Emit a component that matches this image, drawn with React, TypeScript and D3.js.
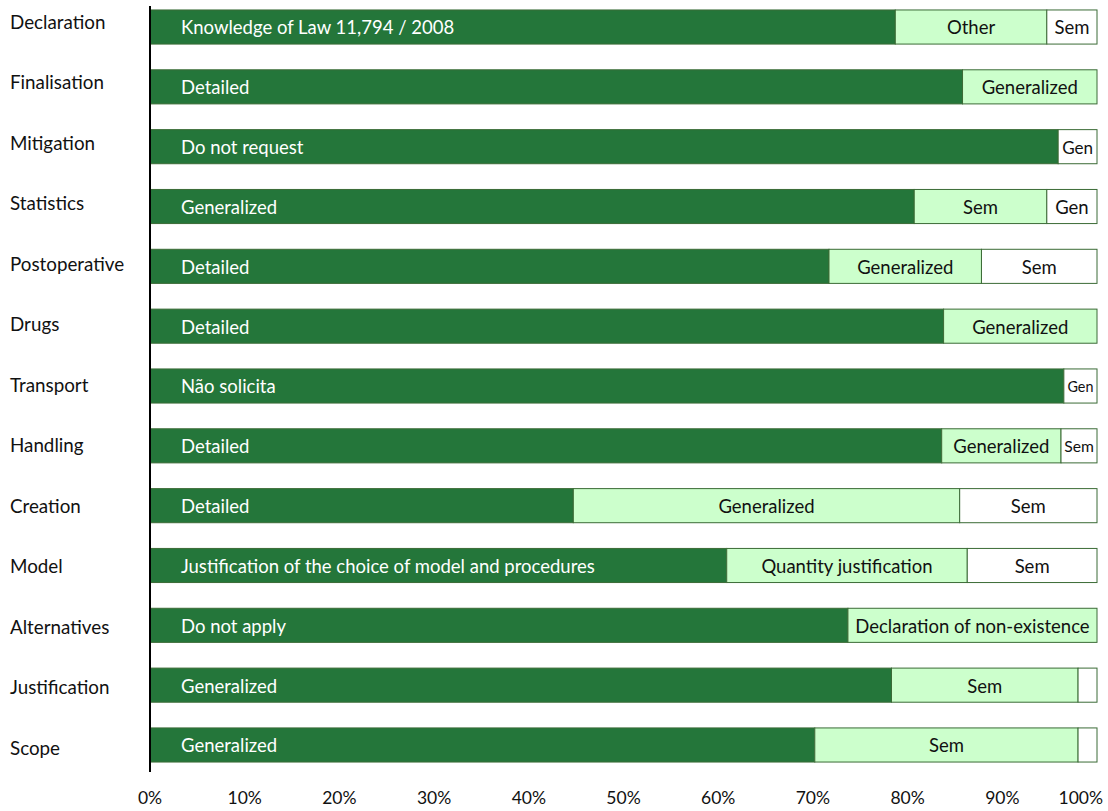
import React from "react";
import * as d3 from "d3";

const categories = [
  "Declaration", "Finalisation", "Mitigation", "Statistics", "Postoperative", "Drugs",
  "Transport", "Handling", "Creation", "Model", "Alternatives", "Justification", "Scope",
];
const darkValues = [78.7, 85.8, 95.9, 80.7, 71.7, 83.8, 96.5, 83.6, 44.7, 60.9, 73.7, 78.3, 70.2];
const lightValues = [16.0, 14.2, 0, 14.0, 16.1, 16.2, 0, 12.6, 40.8, 25.4, 26.3, 19.7, 27.8];
const whiteValues = [5.3, 0, 4.1, 5.3, 12.2, 0, 3.5, 3.8, 14.5, 13.7, 0, 2.0, 2.0];
const darkLabels = [
  "Knowledge of Law 11,794 / 2008", "Detailed", "Do not request", "Generalized", "Detailed",
  "Detailed", "Não solicita", "Detailed", "Detailed",
  "Justification of the choice of model and procedures", "Do not apply", "Generalized", "Generalized",
];
const lightLabels = [
  "Other", "Generalized", "", "Sem", "Generalized", "Generalized", "", "Generalized",
  "Generalized", "Quantity justification", "Declaration of non-existence", "Sem", "Sem",
];
const whiteLabels = ["Sem", "", "Gen", "Gen", "Sem", "", "Gen", "Sem", "Sem", "Sem", "", "", ""];
const tickValues = [0, 10, 20, 30, 40, 50, 60, 70, 80, 90, 100];

const W = 1108;
const H = 811;
const FONT = "Lato, 'Open Sans', sans-serif";

export default function App() {
  const x = d3.scaleLinear().domain([0, 100]).range([150, 1097]);
  const y = d3.scaleBand().domain(categories).range([-2, 774]).paddingInner(0.43).paddingOuter(0.2);
  const labelY = d3.scalePoint().domain(categories).range([22, 748]);
  const bh = y.bandwidth();

  const smallSize = (w: number) => Math.min(18.5, (w - 3) / 2.1);

  return (
    <div style={{ position: "absolute", left: 0, top: 0 }}>
      <svg width={W} height={H} style={{ display: "block", background: "#fff" }} fontFamily={FONT}>
        {categories.map((c, i) => {
          const y0 = y(c)!;
          const cy = y0 + bh / 2 + 1;
          const d1 = darkValues[i];
          const l1 = d1 + lightValues[i];
          const w1 = l1 + whiteValues[i];
          const wx0 = x(l1);
          const wx1 = x(w1);
          const wW = wx1 - wx0;
          return (
            <g key={c}>
              <text x={10} y={labelY(c)!} dy="0.35em" fontSize={18.8} fill="#111">{c}</text>
              <rect x={x(0)} y={y0} width={x(d1) - x(0)} height={bh} fill="#24763a" stroke="#3b6b36" strokeWidth={1} />
              {lightValues[i] > 0 && (
                <rect x={x(d1)} y={y0} width={x(l1) - x(d1)} height={bh} fill="#ccffcc" stroke="#3b6b36" strokeWidth={1} />
              )}
              {whiteValues[i] > 0 && (
                <rect x={wx0} y={y0} width={wW} height={bh} fill="#ffffff" stroke="#3b6b36" strokeWidth={1} />
              )}
              <text x={x(0) + 31} y={cy} dy="0.35em" fontSize={18.5} fill="#ffffff">{darkLabels[i]}</text>
              {lightLabels[i] && (
                <text x={(x(d1) + x(l1)) / 2} y={cy} dy="0.35em" fontSize={18.5} fill="#111" textAnchor="middle">{lightLabels[i]}</text>
              )}
              {whiteLabels[i] && (
                <text x={(wx0 + wx1) / 2} y={cy} dy="0.35em" fontSize={smallSize(wW)} fill="#111" textAnchor="middle">{whiteLabels[i]}</text>
              )}
            </g>
          );
        })}
        <line x1={x(0)} x2={x(0)} y1={6} y2={772} stroke="#000" strokeWidth={2} />
        {tickValues.map((t) => {
          const last = t === 100;
          return (
            <text key={t} x={last ? 1103 : x(t)} y={798} dy="0.35em" fontSize={17.5} fill="#111" textAnchor={last ? "end" : "middle"}>
              {t}%
            </text>
          );
        })}
      </svg>
    </div>
  );
}
